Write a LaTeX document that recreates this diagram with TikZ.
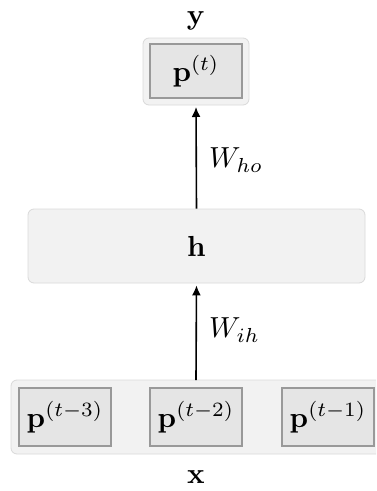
\documentclass[tikz,border=0pt]{standalone}
\usepackage{amsmath}
\usepackage{graphicx}
\usetikzlibrary{arrows.meta}
\newcommand{\bigtxt}[1]{\scalebox{2.9}{#1}}
\begin{document}
\begin{tikzpicture}[x=1pt,y=-1pt,
  outerbox/.style={draw=black!15,fill=black!5,line width=0.8pt,rounded corners=6pt},
  innerbox/.style={draw=black!40,fill=black!10,line width=1.5pt,minimum width=92pt,minimum height=58pt,inner sep=0pt},
  lbl/.style={inner sep=0pt},
  arr/.style={-{Latex[length=10pt,width=9pt]},line width=1.6pt,shorten >=2pt}]
\useasboundingbox (0,0) rectangle (376,491);
\begin{scope}
\clip (0,0) rectangle (376,491);
% top
\draw[outerbox] (143,38) rectangle (249,105);
\node[innerbox,minimum height=54pt] (pt) at (196,71) {\bigtxt{$\mathbf{p}^{(t)}$}};
\node[lbl] (y) at (196,21) {\bigtxt{$\mathbf{y}$}};
% hidden
\node[outerbox,minimum width=337pt,minimum height=74pt] (h) at (196.5,246) {\bigtxt{$\mathbf{h}$}};
% bottom
\draw[outerbox] (11,380) rectangle (390,454);
\node[innerbox] (p3) at (65,417) {\bigtxt{$\mathbf{p}^{(t-3)}$}};
\node[innerbox] (p2) at (196,417) {\bigtxt{$\mathbf{p}^{(t-2)}$}};
\node[innerbox] (p1) at (328,417) {\bigtxt{$\mathbf{p}^{(t-1)}$}};
\node[lbl] (x) at (196,477) {\bigtxt{$\mathbf{x}$}};
\end{scope}
\coordinate (top) at (196,105);
\coordinate (bot) at (196,380);
\draw[arr] (bot) -- (h.south);
\draw[arr] (h.north) -- (top);
\node[lbl,anchor=west] (wih) at (209,330) {\bigtxt{$W_{ih}$}};
\node[lbl,anchor=west] (who) at (209,160) {\bigtxt{$W_{ho}$}};
\end{tikzpicture}
\end{document}
